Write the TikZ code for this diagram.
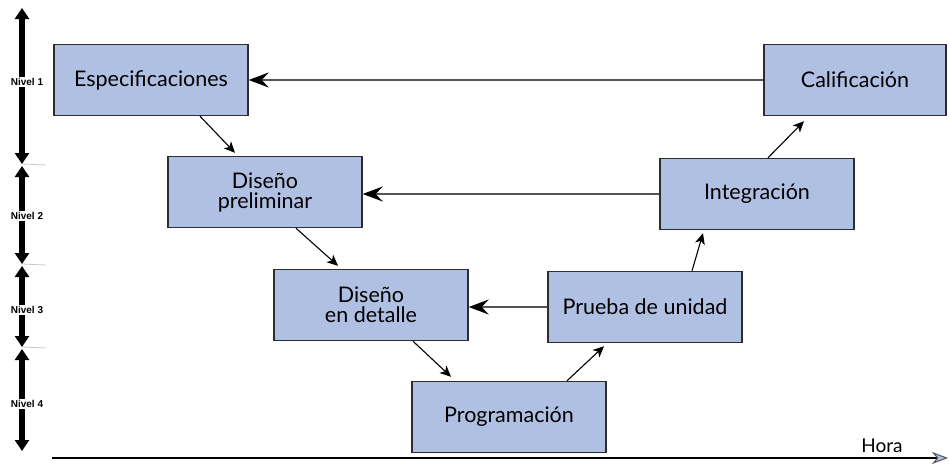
\documentclass[tikz,border=0pt]{standalone}
\usepackage{fontspec}
\setmainfont{Lato}
\newfontfamily\lvlfont{Liberation Sans}
\usetikzlibrary{arrows.meta}
\definecolor{boxfill}{RGB}{176,192,226}
\definecolor{boxline}{RGB}{45,45,45}
\definecolor{linkgray}{RGB}{85,85,85}
\definecolor{sepgray}{RGB}{200,200,200}
\tikzset{
  stage/.style={draw=boxline, line width=1.4pt, fill=boxfill, minimum width=194pt,
    minimum height=71pt, inner sep=0pt, align=center,
    font=\fontsize{21.5}{20}\selectfont},
  backlink/.style={draw=linkgray, line width=1.3pt,
    -{Stealth[length=20pt,width=15pt,inset=7pt,color=black]}},
  steplink/.style={draw=black, line width=1.1pt,
    -{Stealth[length=11pt,width=10pt,inset=3pt]}},
  lvlarrow/.style={draw=black, line width=6pt,
    {Triangle[length=11pt,width=14pt]}-{Triangle[length=11pt,width=14pt]}},
  lvllabel/.style={fill=white, inner sep=1pt, font=\lvlfont\bfseries\fontsize{10}{10}\selectfont},
  sepline/.style={draw=sepgray, line width=0.8pt},
  timeaxis/.style={draw=black, line width=1.3pt,
    -{Stealth[length=16pt,width=12pt,inset=5pt,color=linkgray,fill=boxfill,line width=1pt]}}
}
\begin{document}
\begin{tikzpicture}[x=1pt,y=-1pt]
\useasboundingbox (0,0) rectangle (949,463);

% stages
\node[stage] (esp)   at (151,80)  {Especificaciones};
\node[stage] (prel)  at (265,192) {Diseño\\preliminar};
\node[stage] (det)   at (371,305) {Diseño\\en detalle};
\node[stage] (prog)  at (509,417) {Programación};
\node[stage] (prue)  at (645,307) {Prueba de unidad};
\node[stage] (integ) at (757,194) {Integración};
\node[stage, minimum width=182pt] (calif) at (855,80) {Calificación};

% descending / ascending steps
\draw[steplink] ([xshift=49pt]esp.south) -- ([xshift=-30pt,yshift=3pt]prel.north);
\draw[steplink] ([xshift=31pt]prel.south) -- ([xshift=-33pt,yshift=3pt]det.north);
\draw[steplink] ([xshift=42pt]det.south) -- ([xshift=-58pt,yshift=4pt]prog.north);
\draw[steplink] ([xshift=58pt]prog.north) -- ([xshift=-41pt,yshift=-3pt]prue.south);
\draw[steplink] ([xshift=47pt]prue.north) -- ([xshift=-54pt,yshift=-3pt]integ.south);
\draw[steplink] ([xshift=11pt]integ.north) -- ([xshift=-51pt,yshift=-5pt]calif.south);

% back links
\draw[backlink] (calif.west) -- (calif.west -| esp.east);
\draw[backlink] (integ.west) -- (integ.west -| prel.east);
\draw[backlink] (prue.west) -- (prue.west -| det.east);

% time axis
\coordinate (t0) at (52,458);
\coordinate (t1) at (948,458);
\draw[timeaxis] (t0) -- (t1);
\node[anchor=base, font=\fontsize{19}{19}\selectfont] (hora) at (882,452) {Hora};

% levels
\coordinate (l0) at (22,8);
\coordinate (l1) at (22,164);
\coordinate (l1b) at (22,166);
\coordinate (l2) at (22,264);
\coordinate (l2b) at (22,266);
\coordinate (l3) at (22,347);
\coordinate (l3b) at (22,349);
\coordinate (l4) at (22,451);
\coordinate (s1) at (46,165);
\coordinate (s2) at (46,265);
\coordinate (s3) at (46,348);

\draw[sepline] (l1) -- (s1);
\draw[sepline] (l2) -- (s2);
\draw[sepline] (l3) -- (s3);

\draw[lvlarrow] (l0) -- (l1);
\draw[lvlarrow] (l1b) -- (l2);
\draw[lvlarrow] (l2b) -- (l3);
\draw[lvlarrow] (l3b) -- (l4);

\node[lvllabel] (n1) at (27,82)  {Nivel 1};
\node[lvllabel] (n2) at (27,216) {Nivel 2};
\node[lvllabel] (n3) at (27,310) {Nivel 3};
\node[lvllabel] (n4) at (27,404) {Nivel 4};
\end{tikzpicture}
\end{document}
